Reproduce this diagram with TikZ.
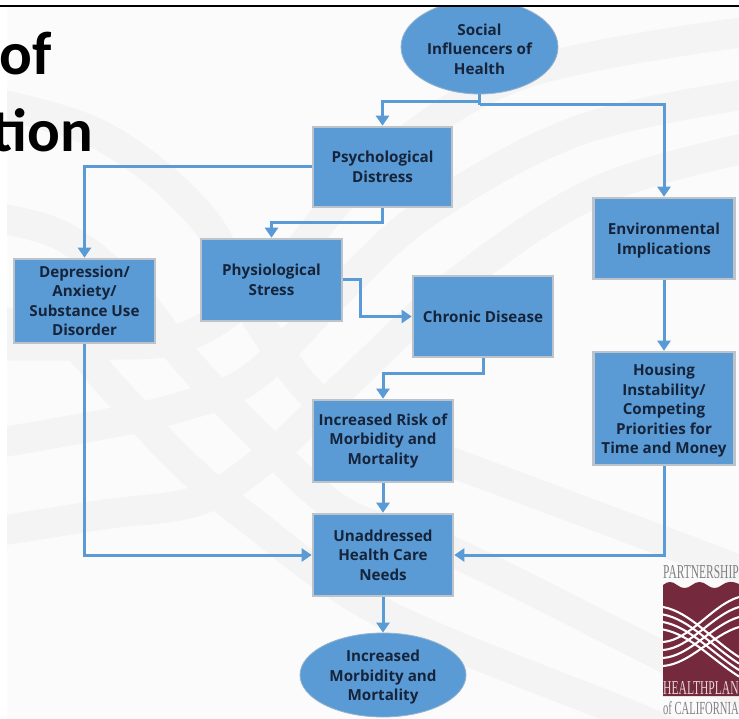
\documentclass[tikz,border=0pt]{standalone}
\usepackage{graphicx}
\usepackage{fontspec}
\setmainfont{Open Sans}
\newfontfamily\titlefont{Carlito}
\newfontfamily\logofont{Liberation Serif}
\usetikzlibrary{shapes.geometric,arrows.meta}
\definecolor{boxblue}{HTML}{5B9BD5}
\definecolor{edgegray}{HTML}{BCC3CA}
\definecolor{bgpage}{HTML}{FBFBFB}
\definecolor{band}{HTML}{F4F4F4}
\definecolor{maroon}{HTML}{74293C}
\definecolor{inktext}{HTML}{15243A}
\newcommand\dn{\rule{0pt}{16pt}}
\tikzset{
  flowbox/.style={rectangle,draw=edgegray,line width=2.6pt,fill=boxblue,inner sep=0pt,align=center,
    font=\fontsize{15.2}{19.5}\selectfont\bfseries,text=inktext},
  flowoval/.style={ellipse,draw=edgegray!60!boxblue,line width=0.8pt,fill=boxblue,inner sep=0pt,align=center,
    font=\fontsize{15.2}{19.5}\selectfont\bfseries,text=inktext},
  link/.style={draw=boxblue,line width=3pt},
  linkarrow/.style={link,-{Triangle[length=10pt,width=13pt]}},
  bgband/.style={draw=band,line width=30pt},
  weave/.style={draw=white,line width=2.1pt},
  logotext/.style={anchor=base west,inner sep=0pt,font=\logofont},
}
\begin{document}
\begin{tikzpicture}[x=1pt,y=-1pt]
\useasboundingbox (0,0) rectangle (739,719);
\clip (0,0) rectangle (739,719);
\fill[white] (0,0) rectangle (739,719);
\fill[bgpage] (7,7) rectangle (739,719);
\begin{scope}
\clip (7,7) rectangle (739,719);
% falling bands
\draw[bgband] plot[smooth,tension=0.6] coordinates {(-20,100) (100,135) (200,215) (255,315) (310,392) (370,435) (453,463) (739,570) (780,590)};
\draw[bgband] plot[smooth,tension=0.6] coordinates {(-20,215) (60,235) (130,290) (187,361) (246,423) (340,510) (453,552) (700,675) (760,700)};
\draw[bgband] plot[smooth,tension=0.6] coordinates {(-20,320) (60,335) (115,390) (175,455) (250,520) (387,615) (640,719) (680,740)};
% rising bands
\draw[bgband] plot[smooth,tension=0.6] coordinates {(-20,446) (100,425) (180,407) (253,377) (340,290) (430,210) (580,130) (760,92)};
\draw[bgband] plot[smooth,tension=0.6] coordinates {(-20,534) (100,515) (200,500) (270,455) (340,390) (460,280) (600,190) (760,145)};
\draw[bgband] plot[smooth,tension=0.6] coordinates {(-20,345) (100,345) (190,335) (280,270) (370,170) (520,75) (760,30)};
\end{scope}
% title fragments
\node[anchor=base west,inner sep=0pt,font=\titlefont\fontsize{61}{61}\selectfont\bfseries,text=black] (titleA) at (-1,75) {of};
\node[anchor=base east,inner sep=0pt,font=\titlefont\fontsize{61}{61}\selectfont\bfseries,text=black] (titleB) at (93,152) {tion};
% nodes
\node[flowoval,minimum width=157pt,minimum height=94pt] (social) at (479.5,47) {\dn Social\\Influencers of\\Health};
\fill[white] (0,0) rectangle (739,5);
\draw[black,line width=2.6pt] (0,6) -- (739,6);
\node[flowbox,minimum width=139pt,minimum height=80pt] (psych) at (382.5,167) {Psychological\\Distress};
\node[flowbox,minimum width=141pt,minimum height=81pt] (env) at (664,238.5) {\dn Environmental\\Implications};
\node[flowbox,minimum width=141pt,minimum height=82pt] (phys) at (271.5,280) {Physiological\\Stress};
\node[flowbox,minimum width=141pt,minimum height=84pt] (dep) at (84.5,301) {Depression/\\Anxiety/\\Substance Use\\Disorder};
\node[flowbox,minimum width=140pt,minimum height=81pt] (chronic) at (483,316.5) {Chronic Disease};
\node[flowbox,minimum width=140pt,minimum height=82pt] (risk) at (383,441) {Increased Risk of\\Morbidity and\\Mortality};
\node[flowbox,minimum width=141pt,minimum height=113pt] (house) at (664,408.5) {\dn Housing\\Instability/\\Competing\\Priorities for\\Time and Money};
\node[flowbox,minimum width=140pt,minimum height=82pt] (unmet) at (383,555) {Unaddressed\\Health Care\\Needs};
\node[flowoval,minimum width=166pt,minimum height=84pt] (out) at (383,675) {\dn Increased\\Morbidity and\\Mortality};
% connectors
\draw[link] (social.south) -- (social.south |- 0,105);
\draw[linkarrow] (social.south |- 0,102) -| (psych.north);
\draw[linkarrow] (social.south |- 0,105) -| (env.north);
\draw[linkarrow] (psych.west) -| (dep.north);
\draw[linkarrow] (psych.south) -- (psych.south |- 0,223) -| (phys.north);
\draw[linkarrow] (phys.east) -- (360,280) |- (chronic.west);
\draw[linkarrow] (chronic.south) -- (chronic.south |- 0,373) -| (risk.north);
\draw[linkarrow] (risk.south) -- (unmet.north);
\draw[linkarrow] (unmet.south) -- (out.north);
\draw[linkarrow] (env.south) -- (house.north);
\draw[linkarrow] (dep.south) |- (unmet.west);
\draw[linkarrow] (house.south) |- (unmet.east);
% logo
\node[logotext,text=gray] (logoA) at (663,578) {\resizebox{75.5pt}{13pt}{PARTNERSHIP}};
\fill[maroon] (663,585) .. controls (668,581) and (672,581) .. (677,585) .. controls (682,589) and (687,589) .. (692,585) .. controls (697,581) and (702,581) .. (707,585) .. controls (712,589) and (717,589) .. (722,585) .. controls (727,581) and (733,581) .. (739,584) -- (739,696) -- (663,696) -- cycle;
\begin{scope}
\clip (663,580) rectangle (739,680);
\foreach \i in {0,1,2,3}{
  \draw[weave] (663,{607+7.5*\i}) .. controls (690,{612+7.5*\i}) and (712,{640+6.5*\i}) .. (739,{657+6.5*\i});
  \draw[weave] (663,{642+8*\i}) .. controls (690,{640+8*\i}) and (712,{605+10*\i}) .. (739,{597+10*\i});
}
\end{scope}
\node[logotext,text=white!80!maroon] (logoB) at (663,694) {\resizebox{75.5pt}{13pt}{HEALTHPLAN}};
\node[logotext,text=gray] (logoC) at (663,714) {\resizebox{75.5pt}{13pt}{of CALIFORNIA}};
\end{tikzpicture}
\end{document}
